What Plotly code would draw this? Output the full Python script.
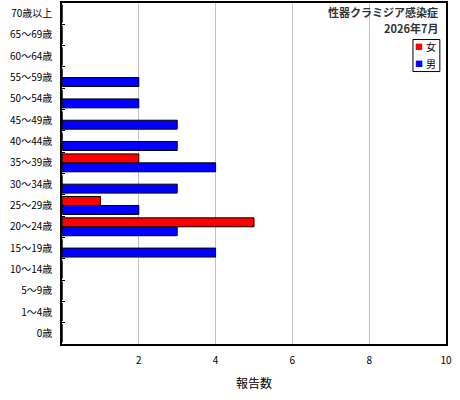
import plotly.graph_objects as go

categories = ["0歳", "1～4歳", "5～9歳", "10～14歳", "15～19歳", "20～24歳", "25～29歳",
              "30～34歳", "35～39歳", "40～44歳", "45～49歳", "50～54歳", "55～59歳",
              "60～64歳", "65～69歳", "70歳以上"]
male = [0, 0, 0, 0, 4, 3, 2, 3, 4, 3, 3, 2, 2, 0, 0, 0]
female = [0, 0, 0, 0, 0, 5, 1, 0, 2, 0, 0, 0, 0, 0, 0, 0]
x_ticks = [2, 4, 6, 8, 10]
title_lines = ["性器クラミジア感染症", "2026年7月"]
legend_names = ["女", "男"]
legend_colors = ["#ff0000", "#0000ff"]

FONT = "Noto Sans CJK JP"

fig = go.Figure()
fig.add_trace(go.Bar(y=categories, x=male, orientation="h", name="男",
                     marker=dict(color="#0000ff", line=dict(color="black", width=1))))
fig.add_trace(go.Bar(y=categories, x=female, orientation="h", name="女",
                     marker=dict(color="#ff0000", line=dict(color="black", width=1))))

annotations = []
for i, t in enumerate(title_lines):
    annotations.append(dict(text=f"<b>{t}</b>", xref="paper", yref="paper",
                            x=0.984, y=0.975 - i * 0.048, xanchor="right", yanchor="middle",
                            showarrow=False, font=dict(size=11, color="#333333")))
for i, (n, c) in enumerate(zip(legend_names, legend_colors)):
    yy = 0.871 - i * 0.047
    annotations.append(dict(text="■", xref="paper", yref="paper", x=0.930, y=yy,
                            xanchor="center", yanchor="middle", showarrow=False,
                            font=dict(size=8, color=c)))
    annotations.append(dict(text=n, xref="paper", yref="paper", x=0.942, y=yy,
                            xanchor="left", yanchor="middle", showarrow=False,
                            font=dict(size=10, color="black")))

fig.update_layout(
    width=460, height=400,
    margin=dict(l=62, r=14, t=3, b=56, autoexpand=False),
    paper_bgcolor="white", plot_bgcolor="white",
    barmode="group", bargap=0.16, bargroupgap=0,
    font=dict(family=FONT, size=10, color="black"),
    showlegend=False,
    xaxis=dict(range=[0, 10], tickvals=x_ticks, ticktext=[str(v) for v in x_ticks],
               showgrid=True, gridcolor="#c0c0c0", gridwidth=1,
               showline=True, linecolor="black", linewidth=1.5, mirror=True,
               ticks="", zeroline=False, automargin=False, ticklabelstandoff=6,
               title=dict(text="報告数", font=dict(size=12), standoff=14)),
    yaxis=dict(type="category", categoryorder="array", categoryarray=categories,
               showline=True, linecolor="black", linewidth=1.5, mirror=True,
               ticks="inside", ticklen=3, tickcolor="black", tickson="boundaries",
               showgrid=False, ticklabelstandoff=6, automargin=False),
    annotations=annotations,
    shapes=[dict(type="rect", xref="paper", yref="paper", x0=0.914, x1=0.984,
                 y0=0.799, y1=0.893, line=dict(color="black", width=1),
                 fillcolor="white", layer="above")],
)

fig.write_html("out.html", config={"displayModeBar": False},
               post_script="document.body.style.margin='0';")
